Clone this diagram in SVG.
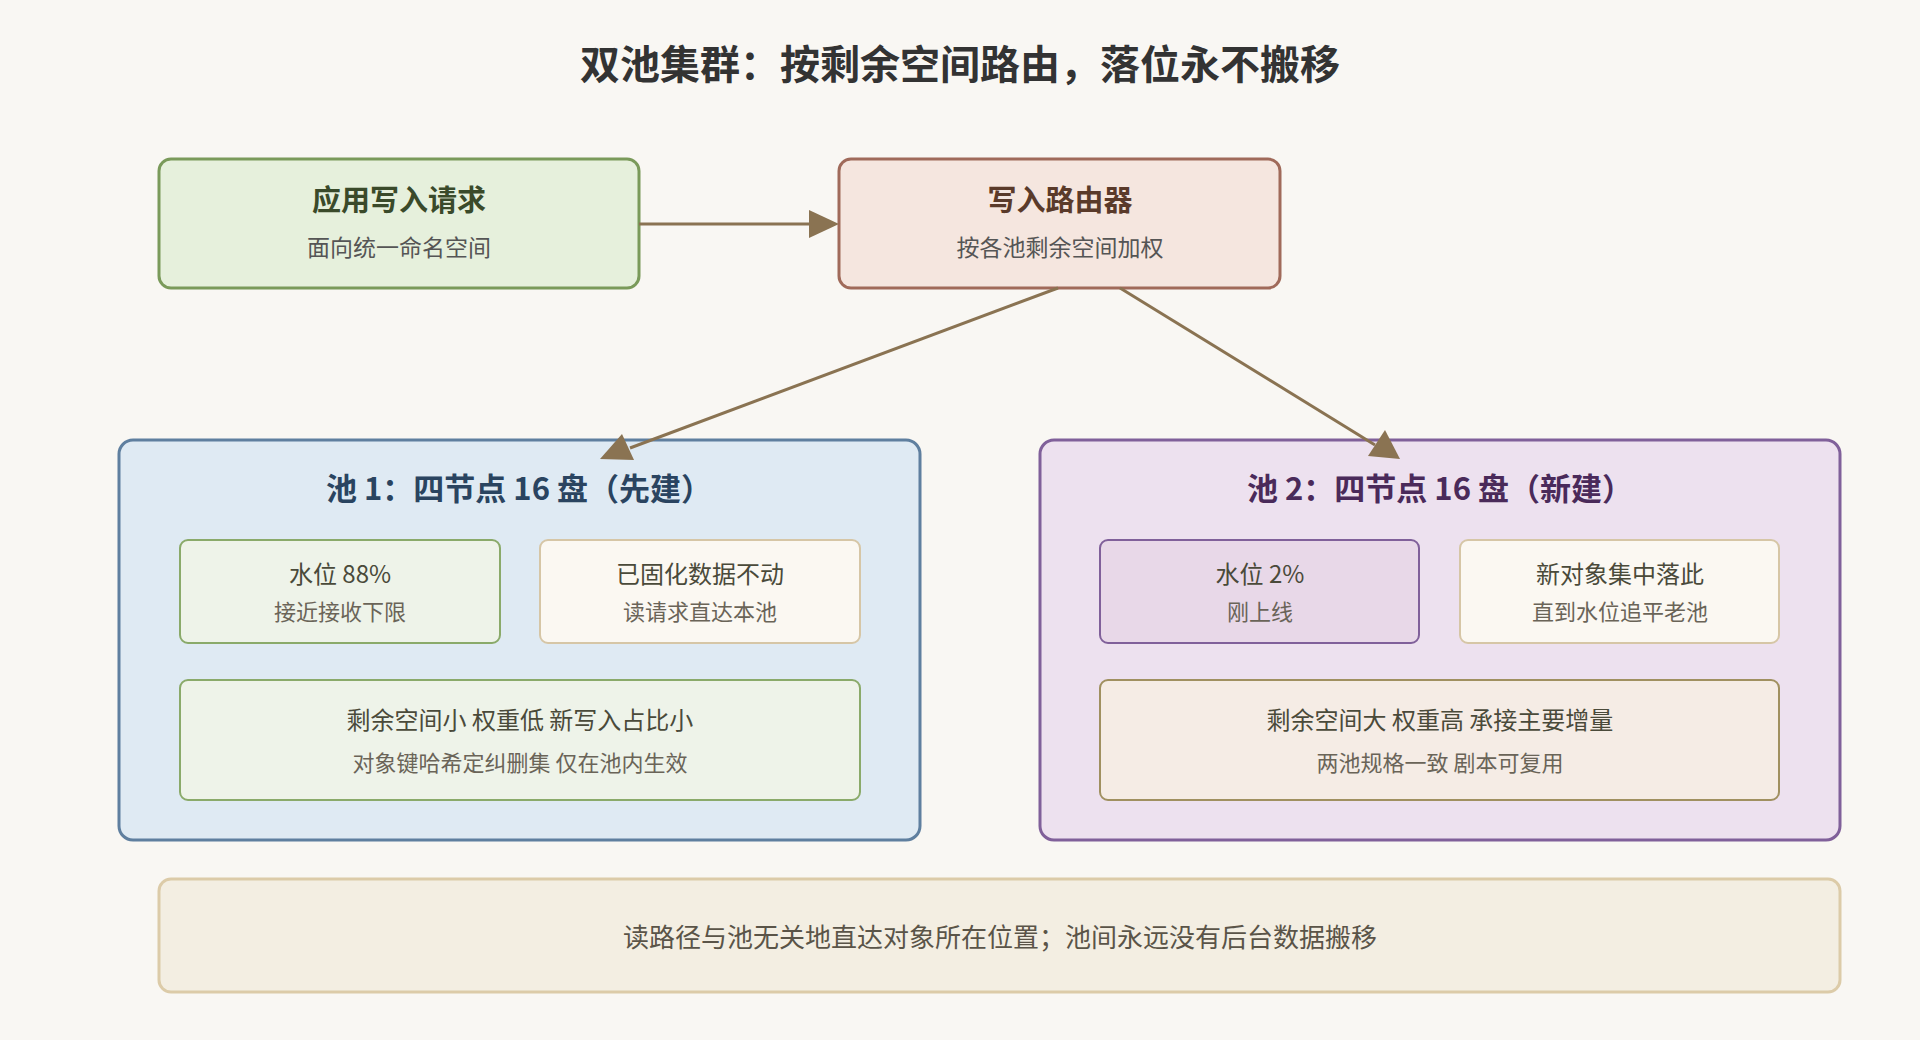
<svg xmlns="http://www.w3.org/2000/svg" width="1920" height="1040" viewBox="0 0 1920 1040">
<style>
text{font-family:"Noto Sans CJK SC","Noto Sans",sans-serif;text-anchor:middle}
.t{font-size:29px;font-weight:bold}
.s{font-size:23px}
.p{font-size:31px;font-weight:bold}
.i{font-size:24px;fill:#4a4a3a}
.j{font-size:22px;fill:#6a6458}
</style>
<rect width="1920" height="1040" fill="#f9f7f3"/>
<text x="960" y="79" style="font-size:40px;font-weight:bold;fill:#333">双池集群：按剩余空间路由，落位永不搬移</text>
<g id="app"><rect x="159" y="159" width="480" height="129" rx="12" fill="#e6f0dc" stroke="#7a9a5a" stroke-width="3"/>
<text class="t" x="399" y="211" fill="#3a4a2a">应用写入请求</text><text class="s" x="399" y="256" fill="#555">面向统一命名空间</text></g>
<g id="router"><rect x="839" y="159" width="441" height="129" rx="12" fill="#f5e6df" stroke="#a06a5a" stroke-width="3"/>
<text class="t" x="1060" y="211" fill="#5a3a2a">写入路由器</text><text class="s" x="1060" y="256" fill="#555">按各池剩余空间加权</text></g>
<g id="pool1"><rect x="119" y="440" width="801" height="400" rx="14" fill="#dfeaf3" stroke="#5f7f9f" stroke-width="3"/>
<text class="p" x="519" y="500" fill="#2a4460">池 1：四节点 16 盘（先建）</text>
<rect x="180" y="540" width="320" height="103" rx="8" fill="#eef3e9" stroke="#8aaa6a" stroke-width="2"/>
<text class="i" x="340" y="583">水位 88%</text><text class="j" x="340" y="620">接近接收下限</text>
<rect x="540" y="540" width="320" height="103" rx="8" fill="#fbf8f2" stroke="#d6c6a6" stroke-width="2"/>
<text class="i" x="700" y="583">已固化数据不动</text><text class="j" x="700" y="620">读请求直达本池</text>
<rect x="180" y="680" width="680" height="120" rx="8" fill="#eef3e9" stroke="#8aaa6a" stroke-width="2"/>
<text class="i" x="520" y="729">剩余空间小 权重低 新写入占比小</text><text class="j" x="520" y="771">对象键哈希定纠删集 仅在池内生效</text></g>
<g id="pool2"><rect x="1040" y="440" width="800" height="400" rx="14" fill="#ede1ef" stroke="#80609a" stroke-width="3"/>
<text class="p" x="1440" y="500" fill="#4a2a5a">池 2：四节点 16 盘（新建）</text>
<rect x="1100" y="540" width="319" height="103" rx="8" fill="#e8d8e8" stroke="#80609a" stroke-width="2"/>
<text class="i" x="1260" y="583">水位 2%</text><text class="j" x="1260" y="620">刚上线</text>
<rect x="1460" y="540" width="319" height="103" rx="8" fill="#fbf8f2" stroke="#d6c6a6" stroke-width="2"/>
<text class="i" x="1620" y="583">新对象集中落此</text><text class="j" x="1620" y="620">直到水位追平老池</text>
<rect x="1100" y="680" width="679" height="120" rx="8" fill="#f5ece5" stroke="#a09060" stroke-width="2"/>
<text class="i" x="1440" y="729">剩余空间大 权重高 承接主要增量</text><text class="j" x="1440" y="771">两池规格一致 剧本可复用</text></g>
<g id="note"><rect x="159" y="879" width="1681" height="113" rx="12" fill="#f3eee2" stroke="#dccba8" stroke-width="3"/>
<text x="1000" y="947" style="font-size:26px;fill:#5a5448">读路径与池无关地直达对象所在位置；池间永远没有后台数据搬移</text></g>
<g id="connectors">
<line x1="639" y1="224" x2="812" y2="224" stroke="#8a7352" stroke-width="3"/>
<path d="M809,210L839,224L809,238z" fill="#8a7352"/>
<line x1="1058" y1="288" x2="630" y2="448" stroke="#8a7352" stroke-width="3"/>
<path d="M600,459L622,434L634,460z" fill="#8a7352"/>
<line x1="1120" y1="288" x2="1375" y2="445" stroke="#8a7352" stroke-width="3"/>
<path d="M1400,459L1368,456L1385,430z" fill="#8a7352"/>
</g>
</svg>
